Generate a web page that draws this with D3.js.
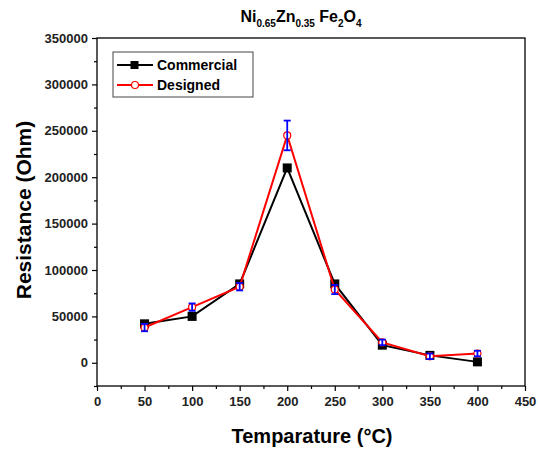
<!DOCTYPE html>
<html>
<head>
<meta charset="utf-8">
<script src="https://cdn.jsdelivr.net/npm/d3@7"></script>
<style>
  body { margin: 0; background: #fff; }
  text { font-family: "Liberation Sans", Arial, sans-serif; }
</style>
</head>
<body>
<div id="chart"></div>
<script>
var temps = [50, 100, 150, 200, 250, 300, 350, 400];
var commercial = [42000, 50000, 85000, 210000, 85000, 19000, 8000, 1000];
var designed = [38000, 60000, 82000, 245000, 79000, 22000, 7000, 10000];
var designedErr = [4000, 4000, 4000, 16000, 5000, 3000, 3000, 3000];
var xTicks = [0, 50, 100, 150, 200, 250, 300, 350, 400, 450];
var yTicks = [0, 50000, 100000, 150000, 200000, 250000, 300000, 350000];

var width = 538, height = 450;
var svg = d3.select("#chart").append("svg")
    .attr("width", width)
    .attr("height", height);

var plotL = 97, plotR = 525, plotT = 38, plotB = 386;

var x = d3.scaleLinear().domain([0, 450]).range([plotL, plotR]);
var y = d3.scaleLinear().domain([-25000, 350000]).range([plotB, plotT]);

// frame
svg.append("rect")
    .attr("x", plotL).attr("y", plotT)
    .attr("width", plotR - plotL).attr("height", plotB - plotT)
    .attr("fill", "none").attr("stroke", "#000").attr("stroke-width", 1.3);

// x axis
svg.append("g").attr("transform", "translate(0," + plotB + ")")
    .call(d3.axisBottom(x).tickValues(xTicks).tickSize(5).tickPadding(6));
svg.append("g").attr("transform", "translate(0," + plotB + ")")
    .call(d3.axisBottom(x).tickValues(d3.range(25, 450, 50)).tickSize(3).tickFormat(""));

// y axis
svg.append("g").attr("transform", "translate(" + plotL + ",0)")
    .call(d3.axisLeft(y).tickValues(yTicks).tickSize(5).tickPadding(4).tickFormat(d3.format("d")));
svg.append("g").attr("transform", "translate(" + plotL + ",0)")
    .call(d3.axisLeft(y).tickValues(d3.range(-25000, 350000, 50000)).tickSize(3).tickFormat(""));

svg.selectAll(".domain").remove();
svg.selectAll(".tick line").attr("stroke", "#000").attr("stroke-width", 1.2);
svg.selectAll(".tick text")
    .attr("fill", "#222")
    .style("font-size", "13px")
    .style("font-weight", "bold");

// lines
var line = d3.line()
    .x(function(d) { return x(d[0]); })
    .y(function(d) { return y(d[1]); });

var comData = temps.map(function(t, i) { return [t, commercial[i]]; });
var desData = temps.map(function(t, i) { return [t, designed[i], designedErr[i]]; });

svg.append("path").datum(comData)
    .attr("d", line).attr("fill", "none")
    .attr("stroke", "#000").attr("stroke-width", 2);

svg.selectAll("rect.com").data(comData).enter().append("rect")
    .attr("class", "com")
    .attr("x", function(d) { return x(d[0]) - 4.5; })
    .attr("y", function(d) { return y(d[1]) - 4.5; })
    .attr("width", 9).attr("height", 9)
    .attr("fill", "#000");

svg.append("path").datum(desData)
    .attr("d", line).attr("fill", "none")
    .attr("stroke", "#ff0000").attr("stroke-width", 2);

svg.selectAll("circle.des").data(desData).enter().append("circle")
    .attr("class", "des")
    .attr("cx", function(d) { return x(d[0]); })
    .attr("cy", function(d) { return y(d[1]); })
    .attr("r", 3.5)
    .attr("fill", "#fff")
    .attr("stroke", "#ff0000").attr("stroke-width", 1.2);

// error bars, drawn over the markers
var eb = svg.selectAll("g.err").data(desData).enter().append("g").attr("class", "err")
    .attr("stroke", "#0000ff").attr("stroke-width", 1.8);
eb.append("line")
    .attr("x1", function(d) { return x(d[0]); })
    .attr("x2", function(d) { return x(d[0]); })
    .attr("y1", function(d) { return y(d[1] - d[2]); })
    .attr("y2", function(d) { return y(d[1] + d[2]); });
eb.append("line")
    .attr("x1", function(d) { return x(d[0]) - 3.5; })
    .attr("x2", function(d) { return x(d[0]) + 3.5; })
    .attr("y1", function(d) { return y(d[1] - d[2]); })
    .attr("y2", function(d) { return y(d[1] - d[2]); });
eb.append("line")
    .attr("x1", function(d) { return x(d[0]) - 3.5; })
    .attr("x2", function(d) { return x(d[0]) + 3.5; })
    .attr("y1", function(d) { return y(d[1] + d[2]); })
    .attr("y2", function(d) { return y(d[1] + d[2]); });

// legend
var lg = svg.append("g").attr("transform", "translate(113,52)");
lg.append("rect").attr("width", 140).attr("height", 45)
    .attr("fill", "#fff").attr("stroke", "#444").attr("stroke-width", 1);
lg.append("line").attr("x1", 4).attr("x2", 40).attr("y1", 13).attr("y2", 13)
    .attr("stroke", "#000").attr("stroke-width", 2);
lg.append("rect").attr("x", 17.5).attr("y", 9).attr("width", 8).attr("height", 8).attr("fill", "#000");
lg.append("text").attr("x", 44).attr("y", 18).text("Commercial")
    .style("font-size", "14px").style("font-weight", "bold");
lg.append("line").attr("x1", 4).attr("x2", 40).attr("y1", 33).attr("y2", 33)
    .attr("stroke", "#ff0000").attr("stroke-width", 2);
lg.append("circle").attr("cx", 22).attr("cy", 33).attr("r", 3.5)
    .attr("fill", "#fff").attr("stroke", "#ff0000").attr("stroke-width", 1.2);
lg.append("text").attr("x", 44).attr("y", 38).text("Designed")
    .style("font-size", "14px").style("font-weight", "bold");

// title
var title = svg.append("text")
    .attr("x", 301).attr("y", 22)
    .attr("text-anchor", "middle")
    .style("font-size", "16px").style("font-weight", "bold");
title.append("tspan").text("Ni");
title.append("tspan").attr("dy", 5).style("font-size", "10px").text("0.65");
title.append("tspan").attr("dy", -5).text("Zn");
title.append("tspan").attr("dy", 5).style("font-size", "10px").text("0.35");
title.append("tspan").attr("dy", -5).text(" Fe");
title.append("tspan").attr("dy", 5).style("font-size", "10px").text("2");
title.append("tspan").attr("dy", -5).text("O");
title.append("tspan").attr("dy", 5).style("font-size", "10px").text("4");

// axis labels
svg.append("text")
    .attr("x", 312).attr("y", 443)
    .attr("text-anchor", "middle")
    .style("font-size", "20px").style("font-weight", "bold")
    .text("Temparature (°C)");

svg.append("text")
    .attr("transform", "translate(31," + ((plotT + plotB) / 2 - 2) + ") rotate(-90)")
    .attr("text-anchor", "middle")
    .style("font-size", "21px").style("font-weight", "bold")
    .text("Resistance (Ohm)");
</script>
</body>
</html>
